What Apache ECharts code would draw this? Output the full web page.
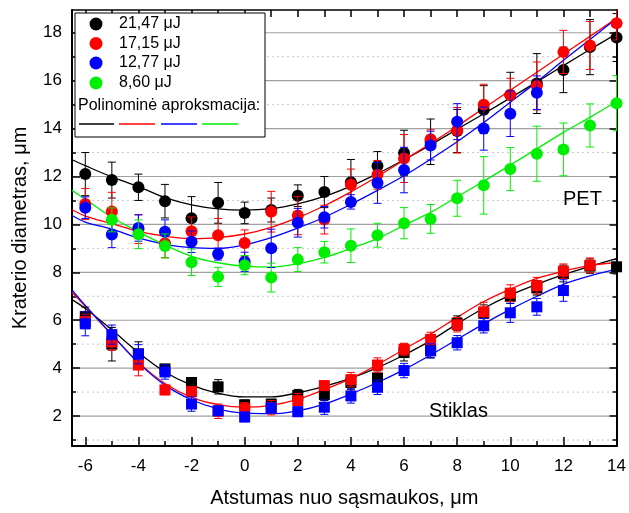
<!DOCTYPE html>
<html><head><meta charset="utf-8">
<script src="https://cdn.jsdelivr.net/npm/echarts@6/dist/echarts.min.js"></script>
<style>html,body{margin:0;padding:0;background:#fff}#c{width:629px;height:513px}</style>
</head><body><div id="c"></div>
<script>
// ---------- DATA ----------
const xs = [-6,-5,-4,-3,-2,-1,0,1,2,3,4,5,6,7,8,9,10,11,12,13,14];
const seriesNames = ['21,47 μJ','17,15 μJ','12,77 μJ','8,60 μJ'];
// PET (circles)
const petBlack = [12.1,11.85,11.55,10.97,10.26,10.9,10.48,10.6,11.2,11.35,11.76,12.44,12.98,13.45,13.9,14.79,15.4,15.88,16.45,17.4,17.8];
const petBlackErr = [0.9,0.75,0.55,0.7,0.9,0.85,0.45,0.5,0.45,0.65,0.95,0.6,0.95,0.95,0.9,1.0,0.95,1.25,0.95,1.15,1.0];
const petRed = [10.85,10.54,9.8,9.21,9.71,9.55,9.22,10.53,10.37,10.2,11.66,12.07,12.75,13.55,13.93,15.0,15.4,15.78,17.2,17.47,18.4];
const petRedErr = [0.65,0.8,0.6,0.6,0.6,0.7,0.55,0.85,0.8,0.6,0.65,0.6,1.0,0.4,0.95,0.85,0.7,1.0,0.9,1.0,0.7];
const petBlue = [10.7,9.58,9.85,9.69,9.28,8.76,8.44,9.0,10.07,10.3,10.94,11.73,12.27,13.29,14.29,14.0,14.62,15.5,null,null,null];
const petBlueErr = [0.45,0.55,0.55,0.5,0.45,0.25,0.4,0.8,0.6,0.45,0.3,0.85,0.95,0.6,0.75,0.9,0.95,0.7,null,null,null];
const petGreen = [null,10.19,9.59,9.1,8.42,7.81,8.3,7.78,8.53,8.84,9.11,9.55,10.05,10.23,11.09,11.63,12.31,12.95,13.13,14.13,15.06];
const petGreenErr = [null,0.5,0.6,0.5,0.55,0.4,0.4,0.6,0.5,0.45,0.7,0.5,0.65,0.6,0.75,1.2,0.9,1.15,1.1,0.9,1.15];
// Glass / Stiklas (squares)
const glBlack = [6.15,5.0,4.6,3.97,3.4,3.22,2.47,2.5,2.86,2.9,3.4,3.59,4.65,4.79,5.88,6.29,7.0,7.35,7.95,8.26,8.23];
const glBlackErr = [0.4,0.7,0.5,0.15,0.2,0.3,0.2,0.2,0.25,0.25,0.3,0.3,0.35,0.35,0.3,0.35,0.3,0.3,0.35,0.3,0.3];
const glRed = [5.95,5.09,4.13,3.09,3.02,2.2,2.31,2.35,2.64,3.27,3.52,4.13,4.79,5.2,5.81,6.35,7.13,7.44,8.05,8.3,null];
const glRedErr = [0.3,0.35,0.45,0.2,0.2,0.3,0.25,0.3,0.3,0.2,0.3,0.3,0.25,0.3,0.3,0.4,0.35,0.35,0.3,0.3,null];
const glBlue = [5.85,5.4,4.58,3.84,2.5,2.22,1.96,2.34,2.18,2.37,2.84,3.2,3.9,4.72,5.06,5.77,6.31,6.56,7.24,null,null];
const glBlueErr = [0.5,0.4,0.4,0.3,0.3,0.2,0.2,0.2,0.2,0.3,0.3,0.3,0.3,0.3,0.3,0.3,0.4,0.35,0.45,null,null];
// Polynomial fit curves
const fitX = [-6.5,-6,-5,-4,-3,-2,-1,0,1,2,3,4,5,6,7,8,9,10,11,12,13,14];
const fitPetBlack = [12.7,12.45,11.98,11.58,11.12,10.82,10.65,10.6,10.66,10.86,11.17,11.6,12.12,12.7,13.32,13.97,14.62,15.28,15.95,16.63,17.3,17.96];
const fitPetRed = [10.61,10.35,10.03,9.71,9.51,9.41,9.45,9.6,9.88,10.28,10.78,11.36,12.0,12.68,13.38,14.1,14.85,15.6,16.35,17.1,17.85,18.6];
const fitPetBlue = [10.37,10.1,9.8,9.44,9.17,9.03,9.0,9.15,9.45,9.85,10.3,10.84,11.42,12.03,12.72,13.45,14.25,15.1,15.95,16.85,17.72,18.6];
const fitPetGreen = [11.42,11.05,10.3,9.69,9.14,8.67,8.4,8.26,8.22,8.35,8.62,9.0,9.41,9.96,10.5,11.15,11.8,12.48,13.16,13.84,14.47,15.13];
const fitGlBlack = [6.86,6.49,5.6,4.65,3.84,3.29,2.95,2.8,2.8,2.97,3.24,3.58,4.02,4.55,5.15,5.85,6.5,7.05,7.5,7.9,8.25,8.57];
const fitGlRed = [7.17,6.58,5.4,4.24,3.36,2.78,2.48,2.37,2.45,2.7,3.1,3.57,4.15,4.79,5.42,6.12,6.78,7.3,7.75,8.05,8.28,8.42];
const fitGlBlue = [7.27,6.62,5.4,4.22,3.29,2.68,2.3,2.12,2.1,2.22,2.5,2.92,3.4,3.94,4.55,5.2,5.85,6.45,7.0,7.5,7.85,8.12];
// Axis ticks
const xLabels = [-6,-4,-2,0,2,4,6,8,10,12,14];
const xMinor = [-5,-3,-1,1,3,5,7,9,11,13];
const yLabels = [2,4,6,8,10,12,14,16,18];
const yMinor = [1,3,5,7,9,11,13,15,17];

// ---------- CHART ----------
const FONT = 'Liberation Sans, Arial, sans-serif';
const colors = ['#000000','#ff0000','#0000ff','#00ee00'];
const XMIN=-6.5, XMAX=14, YMIN=0.75, YMAX=18.95;

function pts(vals, errs){
  const out=[];
  xs.forEach((x,i)=>{ if(vals[i]!=null) out.push([x, vals[i], errs[i]]); });
  return out;
}
function fit(vals){ return fitX.map((x,i)=>[x, vals[i]]); }

function errSeries(data, color, z){
  return {type:'custom', data:data, z:z, clip:true, silent:true,
    encode:{x:0,y:1},
    renderItem:function(params, api){
      const x=api.value(0), y=api.value(1), e=api.value(2);
      const top=api.coord([x,y+e]), bot=api.coord([x,y-e]);
      const w=4;
      return {type:'group', children:[
        {type:'line', shape:{x1:top[0],y1:top[1],x2:bot[0],y2:bot[1]}, style:{stroke:color,lineWidth:1}},
        {type:'line', shape:{x1:top[0]-w,y1:top[1],x2:top[0]+w,y2:top[1]}, style:{stroke:color,lineWidth:1}},
        {type:'line', shape:{x1:bot[0]-w,y1:bot[1],x2:bot[0]+w,y2:bot[1]}, style:{stroke:color,lineWidth:1}}
      ]};
    }};
}
function lineSeries(data, color, z){
  return {type:'line', data:data, z:z, smooth:0.35, showSymbol:false, symbol:'none', silent:true,
    lineStyle:{color:color,width:1.3}};
}
function scatterSeries(data, color, z, sym, size){
  return {type:'scatter', data:data.map(d=>[d[0],d[1]]), z:z, symbol:sym, symbolSize:size, silent:true,
    itemStyle:{color:color, opacity:1}};
}

const series=[];
// gridlines
const gridVals = yLabels.map(v=>[v,1]).concat(yMinor.map(v=>[v,0]));
series.push({type:'custom', data:gridVals, z:0, silent:true, encode:{y:0},
  renderItem:function(params, api){
    const v=api.value(0), major=api.value(1);
    const a=api.coord([XMIN,v]), b=api.coord([XMAX,v]);
    return {type:'line', shape:{x1:a[0],y1:a[1],x2:b[0],y2:b[1]},
      style: major ? {stroke:'#a0a0a0', lineWidth:1.2} : {stroke:'#c8c8c8', lineWidth:1, lineDash:[2,3]}};
  }});

const pet = [[petBlack,petBlackErr,fitPetBlack],[petRed,petRedErr,fitPetRed],[petBlue,petBlueErr,fitPetBlue],[petGreen,petGreenErr,fitPetGreen]];
const gl = [[glBlack,glBlackErr,fitGlBlack],[glRed,glRedErr,fitGlRed],[glBlue,glBlueErr,fitGlBlue]];
gl.forEach((s,i)=>{
  const d=pts(s[0],s[1]);
  series.push(lineSeries(fit(s[2]), colors[i], 2));
  series.push(errSeries(d, colors[i], 3+i));
  series.push(scatterSeries(d, colors[i], 3+i, 'rect', 11));
});
pet.forEach((s,i)=>{
  const d=pts(s[0],s[1]);
  series.push(lineSeries(fit(s[2]), colors[i], 2));
  series.push(errSeries(d, colors[i], 3+i));
  series.push(scatterSeries(d, colors[i], 3+i, 'circle', 12));
});

function tickAxis(base){ return Object.assign({type:'value', min:XMIN, max:XMAX, splitLine:{show:false}}, base); }
const xAxes = [
  tickAxis({position:'bottom', axisLine:{show:true,onZero:false,lineStyle:{color:'#000',width:2}},
    axisTick:{show:true,inside:true,length:9,customValues:xLabels,lineStyle:{color:'#000',width:1.5}},
    axisLabel:{show:true,customValues:xLabels,color:'#000',fontSize:17,fontFamily:FONT,margin:12},
    name:'Atstumas nuo sąsmaukos, μm', nameLocation:'middle', nameGap:42,
    nameTextStyle:{color:'#000',fontSize:20,fontFamily:FONT}}),
  tickAxis({position:'bottom', axisLine:{show:false,onZero:false},
    axisTick:{show:true,inside:true,length:5,customValues:xMinor,lineStyle:{color:'#000',width:1.5}},
    axisLabel:{show:false}}),
  tickAxis({position:'top', axisLine:{show:true,onZero:false,lineStyle:{color:'#000',width:1.5}},
    axisTick:{show:true,inside:true,length:7,customValues:xLabels.concat(xMinor),lineStyle:{color:'#000',width:1.5}},
    axisLabel:{show:false}})
];
function yAx(base){ return Object.assign({type:'value', min:YMIN, max:YMAX, splitLine:{show:false}}, base); }
const yAxes = [
  yAx({position:'left', axisLine:{show:true,onZero:false,lineStyle:{color:'#000',width:2}},
    axisTick:{show:true,inside:true,length:8,customValues:yLabels,lineStyle:{color:'#000',width:1.5}},
    axisLabel:{show:true,customValues:yLabels,color:'#000',fontSize:17,fontFamily:FONT,margin:10},
    name:'Kraterio diametras, μm', nameLocation:'middle', nameGap:42,
    nameTextStyle:{color:'#000',fontSize:20,fontFamily:FONT}}),
  yAx({position:'left', axisLine:{show:false,onZero:false},
    axisTick:{show:true,inside:true,length:4,customValues:yMinor,lineStyle:{color:'#000',width:1.5}},
    axisLabel:{show:false}}),
  yAx({position:'right', axisLine:{show:true,onZero:false,lineStyle:{color:'#000',width:2}},
    axisTick:{show:true,inside:true,length:7,customValues:yLabels,lineStyle:{color:'#000',width:1.5}},
    axisLabel:{show:false}}),
  yAx({position:'right', axisLine:{show:false,onZero:false},
    axisTick:{show:true,inside:true,length:4,customValues:yMinor,lineStyle:{color:'#000',width:1.5}},
    axisLabel:{show:false}})
];

// legend graphic
const lg = [];
lg.push({type:'rect', shape:{x:75,y:13,width:190,height:124}, style:{fill:'#fff',stroke:'#000',lineWidth:1}, z:100});
const rowY=[24,43.5,63,83];
seriesNames.forEach((n,i)=>{
  lg.push({type:'circle', shape:{cx:96,cy:rowY[i],r:6.5}, style:{fill:colors[i]}, z:101});
  lg.push({type:'text', x:119, y:rowY[i], style:{text:n, fill:'#000', font:'16px '+FONT, verticalAlign:'middle', align:'left'}, z:101});
});
lg.push({type:'text', x:78, y:106, style:{text:'Polinominė aproksmacija:', fill:'#000', font:'16px '+FONT, verticalAlign:'middle', align:'left'}, z:101});
[[79,114],[119,155],[161,197],[202,238]].forEach((p,i)=>{
  lg.push({type:'line', shape:{x1:p[0],y1:124,x2:p[1],y2:124}, style:{stroke:colors[i],lineWidth:1.3}, z:101});
});
lg.push({type:'text', x:563, y:199, style:{text:'PET', fill:'#000', font:'20px '+FONT, verticalAlign:'middle', align:'left'}, z:101});
lg.push({type:'text', x:429, y:411, style:{text:'Stiklas', fill:'#000', font:'20px '+FONT, verticalAlign:'middle', align:'left'}, z:101});

const chart = echarts.init(document.getElementById('c'), null, {renderer:'canvas'});
chart.setOption({
  animation:false,
  backgroundColor:'#fff',
  grid:{left:72, right:8, top:10, bottom:58, containLabel:false},
  xAxis:xAxes, yAxis:yAxes,
  series:series,
  graphic:lg
});
</script>
</body></html>
